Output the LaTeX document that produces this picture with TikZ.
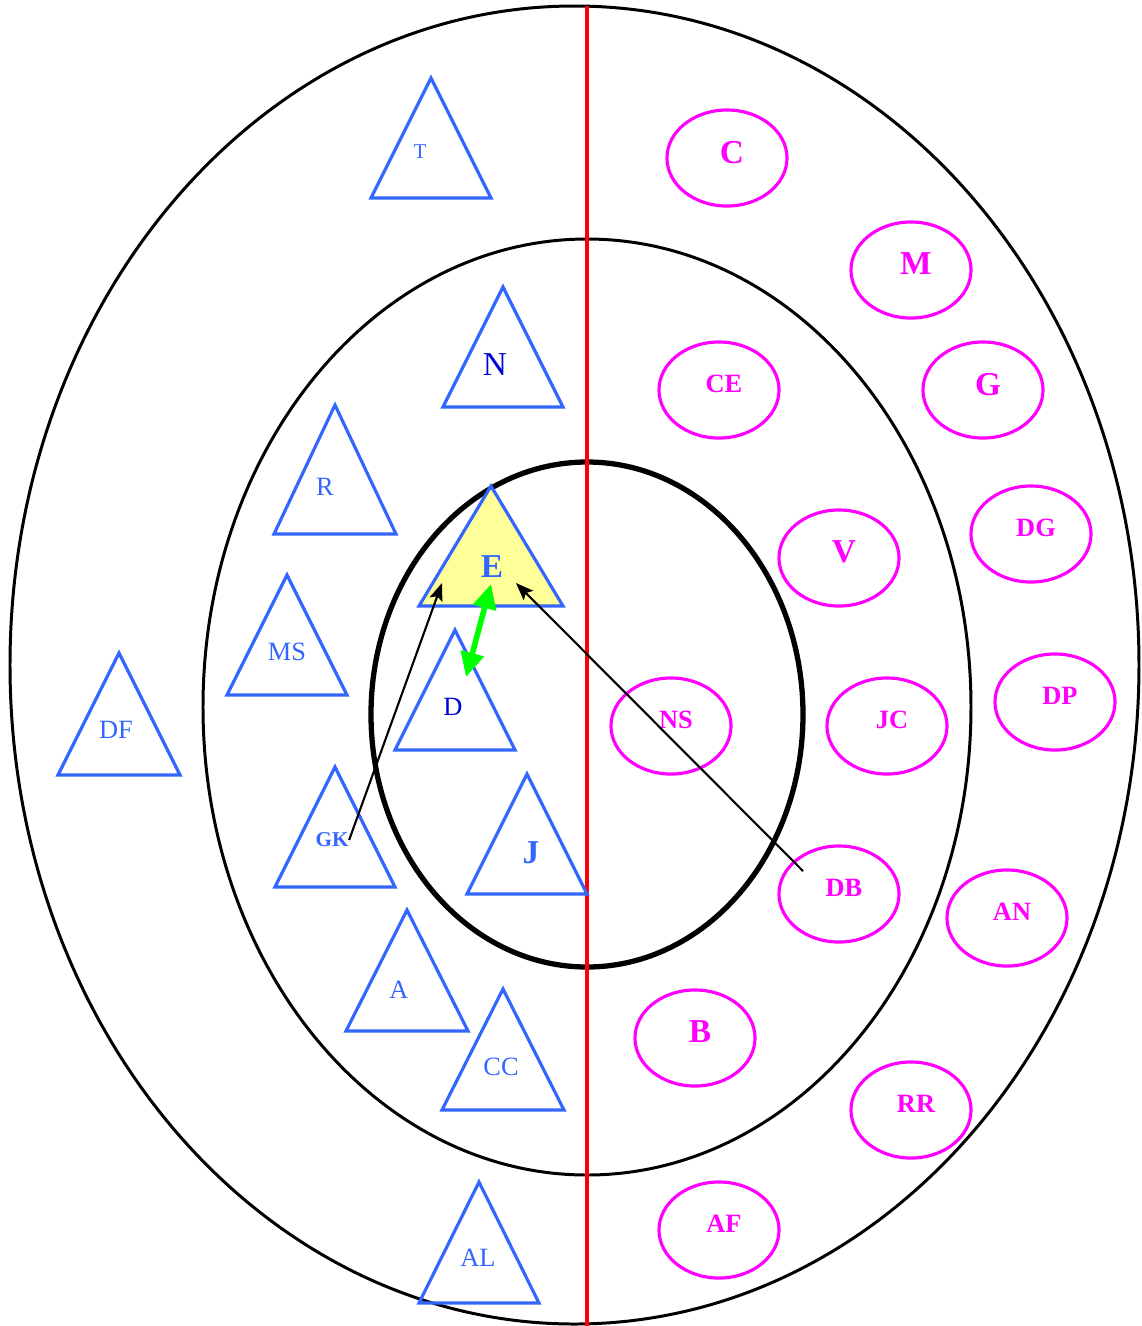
\documentclass[tikz,border=0pt]{standalone}
\usepackage{fontspec}
\setmainfont{Liberation Serif}
\usetikzlibrary{shapes.geometric, arrows.meta}
\definecolor{triblue}{RGB}{51,102,255}
\definecolor{deepblue}{RGB}{0,0,220}
\definecolor{pinkish}{RGB}{255,0,255}
\definecolor{paleyellow}{RGB}{255,255,153}
\begin{document}
\begin{tikzpicture}[
    x=0.01cm, y=-0.01cm,
    ring/.style={draw=black, line width=0.85pt},
    tri/.style={draw=triblue, line width=0.9pt, line join=miter},
    lbl/.style={text=triblue, inner sep=0pt, font=\fontsize{7.5}{9}\selectfont},
    biglbl/.style={lbl, font=\fontsize{9.5}{11}\selectfont},
    boldlbl/.style={lbl, font=\bfseries\fontsize{9.5}{11}\selectfont},
    oval/.style={ellipse, draw=pinkish, line width=0.9pt, minimum width=1.2cm, minimum height=0.96cm,
        inner sep=0pt, text=pinkish, text depth=0.12cm, font=\bfseries\fontsize{7.5}{9}\selectfont,
        execute at begin node={\hspace*{0.1cm}}},
    bigoval/.style={oval, font=\bfseries\fontsize{9.5}{11}\selectfont},
    arrow/.style={-{Stealth[length=5pt, width=3.8pt, inset=1pt]}, line width=0.6pt},
    dblarrow/.style={{Triangle[length=7pt, width=6.5pt]}-{Triangle[length=7pt, width=6.5pt]}, green, line width=1.6pt}
]
    \useasboundingbox (0,0) rectangle (1141,1326);

    % Rings
    \draw[ring] (574.5,665) ellipse [x radius=564.5, y radius=659];
    \draw[ring] (587,707) ellipse [x radius=384, y radius=468];
    \draw[ring, line width=1.5pt] (587,714.5) ellipse [x radius=216, y radius=252.5];

    % Divider
    \draw[red, line width=1.1pt] (587,6) -- (587,1326);

    % Triangles
    \draw[tri] (431,78) -- (491,198) -- (371,198) -- cycle;
    \draw[tri] (503,287) -- (563,407) -- (443,407) -- cycle;
    \draw[tri] (335,405) -- (396,534) -- (274,534) -- cycle;
    \draw[tri] (287,575) -- (347,695) -- (227,695) -- cycle;
    \draw[tri] (119,653) -- (180,775) -- (58,775) -- cycle;
    \draw[tri, fill=paleyellow] (491,486) -- (563,606) -- (419,606) -- cycle;
    \draw[tri] (455,630) -- (515,750) -- (395,750) -- cycle;
    \draw[tri] (335,767) -- (395,887) -- (275,887) -- cycle;
    \draw[tri] (527,774) -- (587,894) -- (467,894) -- cycle;
    \draw[tri] (407,910) -- (468,1031) -- (346,1031) -- cycle;
    \draw[tri] (503,989) -- (564,1110) -- (442,1110) -- cycle;
    \draw[tri] (479,1182) -- (539,1303) -- (419,1303) -- cycle;

    \node[lbl, font=\fontsize{6}{7}\selectfont] (t) at (420,152) {T};
    \node[biglbl, text=deepblue] (n) at (495,365) {N};
    \node[lbl] (r) at (325,487) {R};
    \node[lbl] (ms) at (287,652) {MS};
    \node[lbl] (df) at (116,730) {DF};
    \node[boldlbl] (e) at (492,567) {E};
    \node[lbl, text=deepblue] (d) at (453,707) {D};
    \node[lbl, font=\bfseries\fontsize{6}{7}\selectfont] (gk) at (332,840) {GK};
    \node[boldlbl] (j) at (531,853) {J};
    \node[lbl] (a) at (399,990) {A};
    \node[lbl] (cc) at (501,1067) {CC};
    \node[lbl] (al) at (478,1258) {AL};

    % Ovals
    \node[bigoval] (c) at (727,158) {C};
    \node[bigoval] (m) at (911,270) {M};
    \node[oval] (ce) at (719,390) {CE};
    \node[bigoval] (g) at (983,390) {G};
    \node[bigoval] (v) at (839,558) {V};
    \node[oval] (dg) at (1031,534) {DG};
    \node[oval] (ns) at (671,726) {NS};
    \node[oval] (jc) at (887,726) {JC};
    \node[oval] (dp) at (1055,702) {DP};
    \node[oval] (db) at (839,894) {DB};
    \node[oval] (an) at (1007,918) {AN};
    \node[bigoval] (b) at (695,1038) {B};
    \node[oval] (rr) at (911,1110) {RR};
    \node[oval] (af) at (719,1230) {AF};

    % Arrows
    \coordinate (eleft) at (442,583);
    \coordinate (eright) at (516,583);
    \coordinate (etop) at (491,584);
    \coordinate (dtop) at (466,677);
    \coordinate (dbstart) at (803,871);
    \draw[arrow] (gk.east) -- (eleft);
    \draw[arrow] (dbstart) -- (eright);
    \draw[dblarrow] (etop) -- (dtop);

\end{tikzpicture}
\end{document}
